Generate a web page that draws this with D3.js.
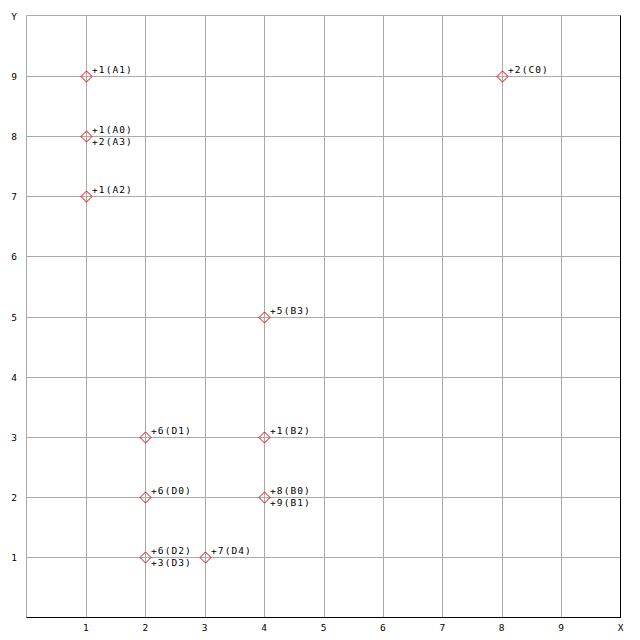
<!DOCTYPE html>
<html><head><meta charset="utf-8">
<script src="https://cdn.jsdelivr.net/npm/d3@7"></script>
<style>body{margin:0;background:#fff}svg{display:block}</style>
</head><body>
<svg id="c" width="640" height="640"></svg>
<script>
const xTickValues = [1,2,3,4,5,6,7,8,9,10];
const xTickLabels = ["1","2","3","4","5","6","7","8","9","X"];
const yTickValues = [1,2,3,4,5,6,7,8,9,10];
const yTickLabels = ["1","2","3","4","5","6","7","8","9","Y"];
// points: x, y, labels (stacked)
const pointX = [1, 1, 1, 8, 4, 2, 4, 2, 4, 2, 3];
const pointY = [9, 8, 7, 9, 5, 3, 3, 2, 2, 1, 1];
const pointLabels = [
  ["+1(A1)"],
  ["+1(A0)", "+2(A3)"],
  ["+1(A2)"],
  ["+2(C0)"],
  ["+5(B3)"],
  ["+6(D1)"],
  ["+1(B2)"],
  ["+6(D0)"],
  ["+8(B0)", "+9(B1)"],
  ["+6(D2)", "+3(D3)"],
  ["+7(D4)"]
];

const svg = d3.select("#c");
const x = d3.scaleLinear().domain([0,10]).range([26.5,620.5]);
const y = d3.scaleLinear().domain([0,10]).range([617.5,15.5]);
const font = "'DejaVu Sans Mono', monospace";

const g = svg.append("g");
// grid
g.selectAll("line.vx").data(xTickValues.slice(0,9)).enter().append("line")
  .attr("x1", d=>Math.round(x(d))+0.5).attr("x2", d=>Math.round(x(d))+0.5)
  .attr("y1", y(10)).attr("y2", y(0)).attr("stroke","#aaa").attr("stroke-width",1);
g.selectAll("line.hy").data(yTickValues.slice(0,9)).enter().append("line")
  .attr("y1", d=>Math.round(y(d))+0.5).attr("y2", d=>Math.round(y(d))+0.5)
  .attr("x1", x(0)).attr("x2", x(10)).attr("stroke","#aaa").attr("stroke-width",1);
// frame: top & left gray, bottom & right black
g.append("line").attr("x1",x(0)).attr("x2",x(10)).attr("y1",y(10)).attr("y2",y(10)).attr("stroke","#aaa");
g.append("line").attr("x1",x(0)).attr("x2",x(0)).attr("y1",y(10)).attr("y2",y(0)).attr("stroke","#aaa");
g.append("line").attr("x1",x(0)).attr("x2",x(10)+0.5).attr("y1",y(0)).attr("y2",y(0)).attr("stroke","#000");
g.append("line").attr("x1",x(10)).attr("x2",x(10)).attr("y1",y(10)).attr("y2",y(0)).attr("stroke","#000");

// tick labels
g.selectAll("text.xt").data(xTickValues).enter().append("text")
  .attr("x", d=>x(d)).attr("y", 631).attr("text-anchor","middle")
  .attr("font-family",font).attr("font-size",9.5).attr("fill","#000")
  .text((d,i)=>xTickLabels[i]);
g.selectAll("text.yt").data(yTickValues).enter().append("text")
  .attr("x", 14).attr("y", d=>y(d)+4).attr("text-anchor","middle")
  .attr("font-family",font).attr("font-size",9.5).attr("fill","#000")
  .text((d,i)=>yTickLabels[i]);

// points
const pts = pointX.map((px,i)=>({x:px,y:pointY[i],labels:pointLabels[i]}));
const pg = g.selectAll("g.pt").data(pts).enter().append("g")
  .attr("transform", d=>`translate(${Math.round(x(d.x))+0.5},${Math.round(y(d.y))+0.5})`);
pg.append("path").attr("d","M0,-5.5L5.5,0L0,5.5L-5.5,0Z")
  .attr("fill","none").attr("stroke","#e00").attr("stroke-width",1);
pg.each(function(d){
  const s = d3.select(this);
  d.labels.forEach((t,j)=>{
    s.append("text").attr("x",5.5).attr("y", j===0 ? -3.5 : 8)
      .attr("font-family",font).attr("font-size",9.5).attr("letter-spacing",1.1)
      .attr("fill","#000").text(t);
  });
});
</script>
</body></html>
